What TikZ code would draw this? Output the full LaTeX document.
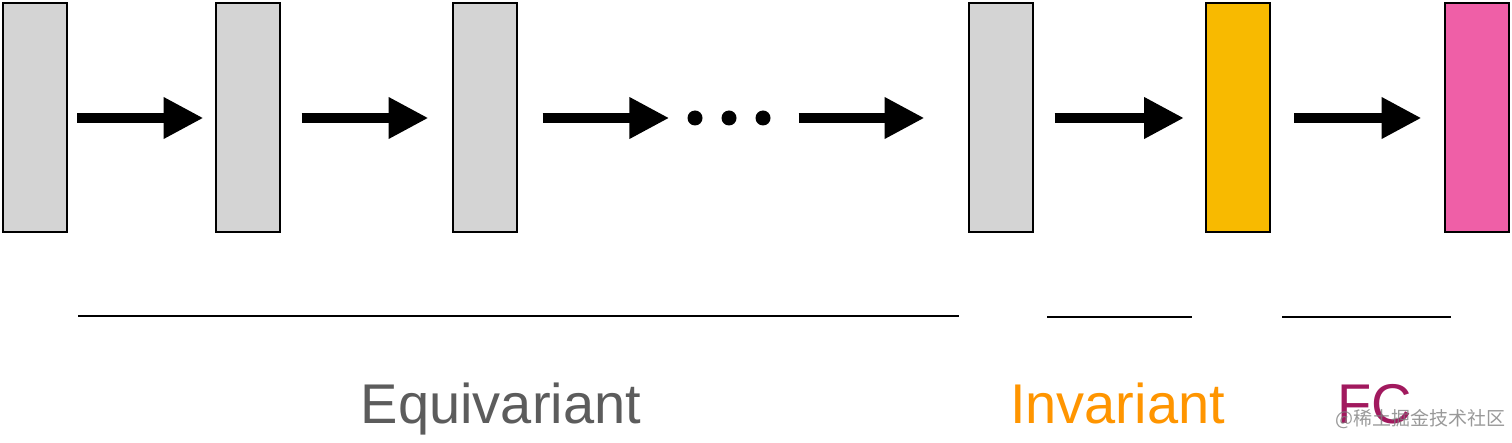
\documentclass[tikz,border=0pt]{standalone}
\usepackage{fontspec}
\setmainfont{Liberation Sans}
\newfontfamily\cjk{Noto Sans CJK SC}
\usetikzlibrary{arrows.meta}

\definecolor{boxgray}{HTML}{D4D4D4}
\definecolor{boxorange}{HTML}{F8BA00}
\definecolor{boxpink}{HTML}{EF5FA7}
\definecolor{txtgray}{HTML}{5C5C5C}
\definecolor{txtorange}{HTML}{FF9500}
\definecolor{txtpurple}{HTML}{A1195E}

\begin{document}
\begin{tikzpicture}[x=1pt,y=-1pt,
        layer/.style={rectangle,draw=black,line width=2pt,minimum width=64pt,minimum height=229pt,inner sep=0pt},
        dot/.style={circle,fill=black,minimum size=15pt,inner sep=0pt},
        arr/.style={line width=10pt,-{Triangle[length=40pt,width=39pt]}},
        bar/.style={line width=2pt},
        label/.style={anchor=base,font=\fontsize{56}{60}\selectfont},
    ]
    \useasboundingbox (0,0) rectangle (1512,443);

    \node[layer,fill=boxgray] (1) at (35,118) {};
    \node[layer,fill=boxgray] (2) at (247.5,118) {};
    \node[layer,fill=boxgray] (3) at (484.5,118) {};
    \node[layer,fill=boxgray] (4) at (1000.5,118) {};
    \node[layer,fill=boxorange] (5) at (1238,118) {};
    \node[layer,fill=boxpink] (6) at (1476.5,118) {};

    \node[dot] (d1) at (695,118) {};
    \node[dot] (d2) at (729,118) {};
    \node[dot] (d3) at (763,118) {};

    \draw[arr,shorten <=9pt,shorten >=11pt] (1) -- (2);
    \draw[arr,shorten <=21pt,shorten >=23pt] (2) -- (3);
    \draw[arr,shorten <=25pt,shorten >=18pt] (3) -- (d1);
    \draw[arr,shorten <=28pt,shorten >=43pt] (d3) -- (4);
    \draw[arr,shorten <=21pt,shorten >=21pt] (4) -- (5);
    \draw[arr,shorten <=23pt,shorten >=22pt] (5) -- (6);

    \draw[bar] (78,316) -- (959,316);
    \draw[bar] (1047,317) -- (1192,317);
    \draw[bar] (1282,317) -- (1451,317);

    \node[label,text=txtgray] (equi) at (501,423) {Equivariant};
    \node[label,text=txtorange] (inv) at (1117.5,423) {Invariant};
    \node[label,text=txtpurple] (fc) at (1374.5,423) {FC};
    \node[anchor=base west,inner sep=0pt,text=gray,opacity=0.8,font=\cjk\fontsize{19}{20}\selectfont] (mark) at (1335,425) {@稀土掘金技术社区};
\end{tikzpicture}
\end{document}
